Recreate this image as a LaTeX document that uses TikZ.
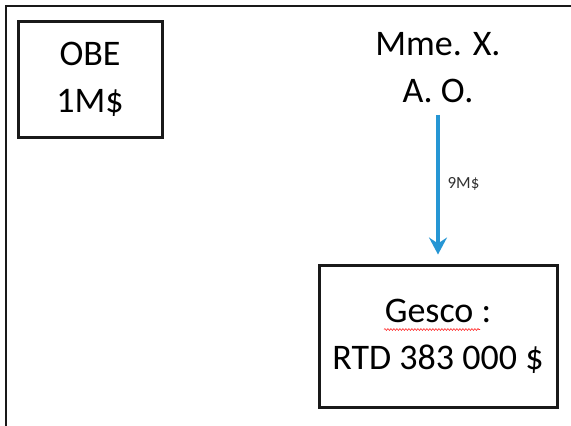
\documentclass[tikz,border=0pt]{standalone}
\usepackage{fontspec}
\setmainfont{Carlito}
\usetikzlibrary{arrows.meta,decorations.pathmorphing}
\definecolor{arrowblue}{RGB}{38,150,212}
\definecolor{framegray}{RGB}{25,25,25}
\definecolor{labelgray}{RGB}{50,50,50}
\begin{document}
\begin{tikzpicture}[x=1pt,y=-1pt,
  box/.style={draw=framegray, line width=3pt, align=center, inner sep=0pt,
    font=\fontsize{36}{47}\selectfont},
  plain/.style={align=center, inner sep=2pt, font=\fontsize{36}{47}\selectfont},
  flow/.style={-{Stealth[length=17pt,width=18pt,inset=6pt]}, draw=arrowblue, line width=3.2pt},
  flowlabel/.style={font=\fontsize{17}{20}\selectfont, text=labelgray, inner sep=1pt},
  spell/.style={draw=red!85!white, line width=0.6pt, decorate,
    decoration={snake, amplitude=0.9pt, segment length=3pt}}]
\useasboundingbox (0,0) rectangle (571,426);
\fill[white] (0,0) rectangle (571,426);
\draw[framegray, line width=2.5pt] (572,6) -- (6,6) -- (6,427);
\node[box, minimum width=144pt, minimum height=116pt] (obe) at (90,79) {OBE\\1M\$};
\node[box, minimum width=238pt, minimum height=142pt] (gesco) at (438,336) {Gesco :\\RTD 383 000 \$};
\node[plain] (mme) at (438,67.5) {Mme. X.\\A. O.};
\coordinate (gtop) at (mme.south |- gesco.north);
\draw[flow, shorten <=10pt, shorten >=9pt] (mme.south) -- (gtop)
  node[midway, right=7pt, flowlabel] (lbl) {9M\$};
\draw[spell] (384,329.5) -- (480,329.5);
\end{tikzpicture}
\end{document}
